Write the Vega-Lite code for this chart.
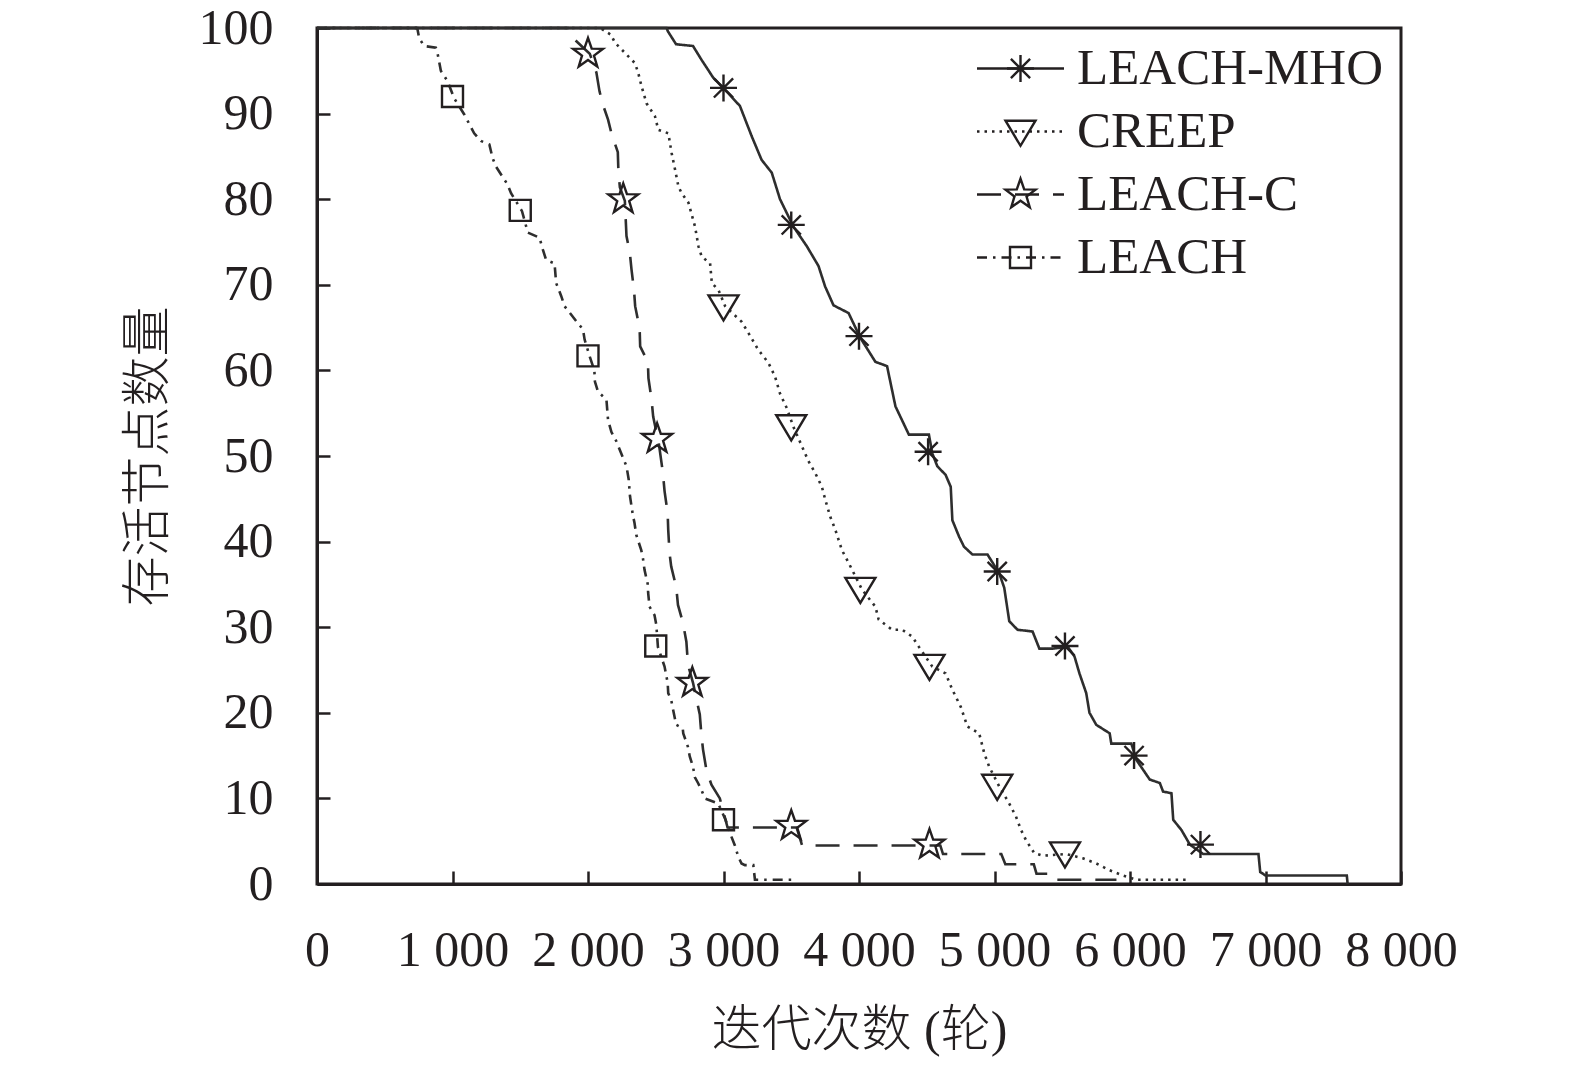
{
  "$schema": "https://vega.github.io/schema/vega-lite/v6.json",
  "autosize": {"type": "none"},
  "padding": {"left": 317, "top": 28, "right": 174, "bottom": 182},
  "width": 1084,
  "height": 856,
  "background": "white",
  "config": {
    "view": {"stroke": "#231f20", "strokeWidth": 3},
    "font": "Liberation Serif",
    "axis": {
      "grid": false,
      "domainColor": "#231f20",
      "domainWidth": 3,
      "tickColor": "#231f20",
      "tickWidth": 2.5,
      "tickSize": -13,
      "labelFont": "Liberation Serif",
      "labelFontSize": 50,
      "labelColor": "#231f20",
      "labelOverlap": false,
      "labelFlush": false,
      "titleFont": "Liberation Serif, Noto Sans CJK SC",
      "titleFontSize": 50,
      "titleFontWeight": 300,
      "titleColor": "#231f20"
    }
  },
  "datasets": {
    "lines": [
      {"series": "LEACH-MHO", "round": 0, "alive": 100},
      {"series": "LEACH-MHO", "round": 2580, "alive": 100},
      {"series": "LEACH-MHO", "round": 2590, "alive": 99.6},
      {"series": "LEACH-MHO", "round": 2650, "alive": 98.1},
      {"series": "LEACH-MHO", "round": 2775, "alive": 97.9},
      {"series": "LEACH-MHO", "round": 2837, "alive": 96.3},
      {"series": "LEACH-MHO", "round": 2924, "alive": 94.2},
      {"series": "LEACH-MHO", "round": 3010, "alive": 92.8},
      {"series": "LEACH-MHO", "round": 3121, "alive": 90.9},
      {"series": "LEACH-MHO", "round": 3207, "alive": 87.4},
      {"series": "LEACH-MHO", "round": 3281, "alive": 84.6},
      {"series": "LEACH-MHO", "round": 3356, "alive": 83.1},
      {"series": "LEACH-MHO", "round": 3417, "alive": 80},
      {"series": "LEACH-MHO", "round": 3516, "alive": 76.8},
      {"series": "LEACH-MHO", "round": 3615, "alive": 74.5},
      {"series": "LEACH-MHO", "round": 3701, "alive": 72.2},
      {"series": "LEACH-MHO", "round": 3750, "alive": 69.8},
      {"series": "LEACH-MHO", "round": 3812, "alive": 67.6},
      {"series": "LEACH-MHO", "round": 3923, "alive": 66.7},
      {"series": "LEACH-MHO", "round": 4010, "alive": 63.8},
      {"series": "LEACH-MHO", "round": 4121, "alive": 61},
      {"series": "LEACH-MHO", "round": 4207, "alive": 60.5},
      {"series": "LEACH-MHO", "round": 4269, "alive": 55.8},
      {"series": "LEACH-MHO", "round": 4368, "alive": 52.5},
      {"series": "LEACH-MHO", "round": 4516, "alive": 52.5},
      {"series": "LEACH-MHO", "round": 4541, "alive": 50.3},
      {"series": "LEACH-MHO", "round": 4578, "alive": 48.8},
      {"series": "LEACH-MHO", "round": 4639, "alive": 47.8},
      {"series": "LEACH-MHO", "round": 4677, "alive": 46.4},
      {"series": "LEACH-MHO", "round": 4689, "alive": 42.5},
      {"series": "LEACH-MHO", "round": 4738, "alive": 40.6},
      {"series": "LEACH-MHO", "round": 4775, "alive": 39.4},
      {"series": "LEACH-MHO", "round": 4837, "alive": 38.5},
      {"series": "LEACH-MHO", "round": 4948, "alive": 38.5},
      {"series": "LEACH-MHO", "round": 5035, "alive": 36.3},
      {"series": "LEACH-MHO", "round": 5072, "alive": 34.6},
      {"series": "LEACH-MHO", "round": 5109, "alive": 30.7},
      {"series": "LEACH-MHO", "round": 5170, "alive": 29.7},
      {"series": "LEACH-MHO", "round": 5281, "alive": 29.5},
      {"series": "LEACH-MHO", "round": 5331, "alive": 27.5},
      {"series": "LEACH-MHO", "round": 5430, "alive": 27.5},
      {"series": "LEACH-MHO", "round": 5541, "alive": 27.7},
      {"series": "LEACH-MHO", "round": 5590, "alive": 26.6},
      {"series": "LEACH-MHO", "round": 5627, "alive": 24.6},
      {"series": "LEACH-MHO", "round": 5677, "alive": 22.3},
      {"series": "LEACH-MHO", "round": 5701, "alive": 20},
      {"series": "LEACH-MHO", "round": 5751, "alive": 18.6},
      {"series": "LEACH-MHO", "round": 5850, "alive": 17.6},
      {"series": "LEACH-MHO", "round": 5862, "alive": 16.4},
      {"series": "LEACH-MHO", "round": 6010, "alive": 16.4},
      {"series": "LEACH-MHO", "round": 6047, "alive": 14.5},
      {"series": "LEACH-MHO", "round": 6146, "alive": 12.2},
      {"series": "LEACH-MHO", "round": 6220, "alive": 11.8},
      {"series": "LEACH-MHO", "round": 6244, "alive": 10.8},
      {"series": "LEACH-MHO", "round": 6306, "alive": 10.6},
      {"series": "LEACH-MHO", "round": 6319, "alive": 7.5},
      {"series": "LEACH-MHO", "round": 6380, "alive": 6.3},
      {"series": "LEACH-MHO", "round": 6442, "alive": 4.6},
      {"series": "LEACH-MHO", "round": 6540, "alive": 3.5},
      {"series": "LEACH-MHO", "round": 6948, "alive": 3.5},
      {"series": "LEACH-MHO", "round": 6961, "alive": 1.4},
      {"series": "LEACH-MHO", "round": 7000, "alive": 1},
      {"series": "LEACH-MHO", "round": 7600, "alive": 1},
      {"series": "LEACH-MHO", "round": 7606, "alive": 0},

      {"series": "CREEP", "round": 0, "alive": 100},
      {"series": "CREEP", "round": 2090, "alive": 100},
      {"series": "CREEP", "round": 2170, "alive": 99.2},
      {"series": "CREEP", "round": 2198, "alive": 98.3},
      {"series": "CREEP", "round": 2272, "alive": 97.1},
      {"series": "CREEP", "round": 2346, "alive": 95.9},
      {"series": "CREEP", "round": 2370, "alive": 94.8},
      {"series": "CREEP", "round": 2395, "alive": 93.2},
      {"series": "CREEP", "round": 2432, "alive": 91.2},
      {"series": "CREEP", "round": 2494, "alive": 89.7},
      {"series": "CREEP", "round": 2519, "alive": 88.1},
      {"series": "CREEP", "round": 2593, "alive": 87.7},
      {"series": "CREEP", "round": 2617, "alive": 85.4},
      {"series": "CREEP", "round": 2642, "alive": 83.5},
      {"series": "CREEP", "round": 2667, "alive": 81.5},
      {"series": "CREEP", "round": 2691, "alive": 80.7},
      {"series": "CREEP", "round": 2741, "alive": 79.6},
      {"series": "CREEP", "round": 2790, "alive": 76.8},
      {"series": "CREEP", "round": 2815, "alive": 74.5},
      {"series": "CREEP", "round": 2839, "alive": 73.3},
      {"series": "CREEP", "round": 2901, "alive": 72.5},
      {"series": "CREEP", "round": 2914, "alive": 70.2},
      {"series": "CREEP", "round": 2963, "alive": 69.4},
      {"series": "CREEP", "round": 3012, "alive": 67.5},
      {"series": "CREEP", "round": 3133, "alive": 65.7},
      {"series": "CREEP", "round": 3183, "alive": 64.4},
      {"series": "CREEP", "round": 3257, "alive": 62.4},
      {"series": "CREEP", "round": 3331, "alive": 60.9},
      {"series": "CREEP", "round": 3380, "alive": 59.3},
      {"series": "CREEP", "round": 3417, "alive": 57.3},
      {"series": "CREEP", "round": 3467, "alive": 55.6},
      {"series": "CREEP", "round": 3516, "alive": 53.4},
      {"series": "CREEP", "round": 3627, "alive": 49.4},
      {"series": "CREEP", "round": 3677, "alive": 48},
      {"series": "CREEP", "round": 3726, "alive": 46.4},
      {"series": "CREEP", "round": 3751, "alive": 44.9},
      {"series": "CREEP", "round": 3788, "alive": 42.9},
      {"series": "CREEP", "round": 3825, "alive": 41.4},
      {"series": "CREEP", "round": 3874, "alive": 39},
      {"series": "CREEP", "round": 3924, "alive": 37.5},
      {"series": "CREEP", "round": 4022, "alive": 34.4},
      {"series": "CREEP", "round": 4121, "alive": 32.4},
      {"series": "CREEP", "round": 4145, "alive": 30.9},
      {"series": "CREEP", "round": 4244, "alive": 29.7},
      {"series": "CREEP", "round": 4319, "alive": 29.7},
      {"series": "CREEP", "round": 4393, "alive": 28.9},
      {"series": "CREEP", "round": 4442, "alive": 27.7},
      {"series": "CREEP", "round": 4541, "alive": 25.4},
      {"series": "CREEP", "round": 4639, "alive": 24.6},
      {"series": "CREEP", "round": 4689, "alive": 22.7},
      {"series": "CREEP", "round": 4751, "alive": 20.7},
      {"series": "CREEP", "round": 4800, "alive": 18.4},
      {"series": "CREEP", "round": 4887, "alive": 17.6},
      {"series": "CREEP", "round": 4924, "alive": 15.3},
      {"series": "CREEP", "round": 4961, "alive": 13.7},
      {"series": "CREEP", "round": 5035, "alive": 11.4},
      {"series": "CREEP", "round": 5109, "alive": 9.4},
      {"series": "CREEP", "round": 5158, "alive": 7.9},
      {"series": "CREEP", "round": 5196, "alive": 6.3},
      {"series": "CREEP", "round": 5233, "alive": 5.1},
      {"series": "CREEP", "round": 5294, "alive": 3.6},
      {"series": "CREEP", "round": 5356, "alive": 3.3},
      {"series": "CREEP", "round": 5528, "alive": 3.5},
      {"series": "CREEP", "round": 5652, "alive": 3},
      {"series": "CREEP", "round": 5751, "alive": 2.4},
      {"series": "CREEP", "round": 5850, "alive": 1.6},
      {"series": "CREEP", "round": 5948, "alive": 1},
      {"series": "CREEP", "round": 6047, "alive": 0.5},
      {"series": "CREEP", "round": 6420, "alive": 0.5},

      {"series": "LEACH-C", "round": 0, "alive": 100},
      {"series": "LEACH-C", "round": 1850, "alive": 100},
      {"series": "LEACH-C", "round": 1864, "alive": 99.2},
      {"series": "LEACH-C", "round": 2013, "alive": 97},
      {"series": "LEACH-C", "round": 2062, "alive": 94.8},
      {"series": "LEACH-C", "round": 2085, "alive": 92.6},
      {"series": "LEACH-C", "round": 2111, "alive": 91},
      {"series": "LEACH-C", "round": 2148, "alive": 89.3},
      {"series": "LEACH-C", "round": 2173, "alive": 87.7},
      {"series": "LEACH-C", "round": 2220, "alive": 85.5},
      {"series": "LEACH-C", "round": 2224, "alive": 83.5},
      {"series": "LEACH-C", "round": 2235, "alive": 81.4},
      {"series": "LEACH-C", "round": 2272, "alive": 79.8},
      {"series": "LEACH-C", "round": 2284, "alive": 75.7},
      {"series": "LEACH-C", "round": 2309, "alive": 73.7},
      {"series": "LEACH-C", "round": 2321, "alive": 71.8},
      {"series": "LEACH-C", "round": 2340, "alive": 69.3},
      {"series": "LEACH-C", "round": 2348, "alive": 67.5},
      {"series": "LEACH-C", "round": 2381, "alive": 64.9},
      {"series": "LEACH-C", "round": 2385, "alive": 62.8},
      {"series": "LEACH-C", "round": 2442, "alive": 61},
      {"series": "LEACH-C", "round": 2446, "alive": 59.1},
      {"series": "LEACH-C", "round": 2469, "alive": 56.6},
      {"series": "LEACH-C", "round": 2481, "alive": 54.6},
      {"series": "LEACH-C", "round": 2506, "alive": 52.7},
      {"series": "LEACH-C", "round": 2519, "alive": 51.9},
      {"series": "LEACH-C", "round": 2553, "alive": 48},
      {"series": "LEACH-C", "round": 2565, "alive": 45.9},
      {"series": "LEACH-C", "round": 2588, "alive": 43.3},
      {"series": "LEACH-C", "round": 2592, "alive": 41.4},
      {"series": "LEACH-C", "round": 2602, "alive": 38.6},
      {"series": "LEACH-C", "round": 2614, "alive": 37.1},
      {"series": "LEACH-C", "round": 2651, "alive": 34.7},
      {"series": "LEACH-C", "round": 2664, "alive": 32.6},
      {"series": "LEACH-C", "round": 2701, "alive": 30.5},
      {"series": "LEACH-C", "round": 2726, "alive": 28.3},
      {"series": "LEACH-C", "round": 2738, "alive": 25.6},
      {"series": "LEACH-C", "round": 2775, "alive": 23.5},
      {"series": "LEACH-C", "round": 2825, "alive": 19.8},
      {"series": "LEACH-C", "round": 2837, "alive": 17.4},
      {"series": "LEACH-C", "round": 2849, "alive": 15.7},
      {"series": "LEACH-C", "round": 2874, "alive": 13.3},
      {"series": "LEACH-C", "round": 2911, "alive": 11.6},
      {"series": "LEACH-C", "round": 2973, "alive": 10},
      {"series": "LEACH-C", "round": 3030, "alive": 6.6},
      {"series": "LEACH-C", "round": 3540, "alive": 6.6},
      {"series": "LEACH-C", "round": 3580, "alive": 4.5},
      {"series": "LEACH-C", "round": 4600, "alive": 4.5},
      {"series": "LEACH-C", "round": 4620, "alive": 3.5},
      {"series": "LEACH-C", "round": 5050, "alive": 3.5},
      {"series": "LEACH-C", "round": 5080, "alive": 2.3},
      {"series": "LEACH-C", "round": 5290, "alive": 2.3},
      {"series": "LEACH-C", "round": 5310, "alive": 1.2},
      {"series": "LEACH-C", "round": 5420, "alive": 1.2},
      {"series": "LEACH-C", "round": 5440, "alive": 0.5},
      {"series": "LEACH-C", "round": 5900, "alive": 0.5},

      {"series": "LEACH", "round": 0, "alive": 100},
      {"series": "LEACH", "round": 740, "alive": 100},
      {"series": "LEACH", "round": 754, "alive": 98.8},
      {"series": "LEACH", "round": 791, "alive": 97.9},
      {"series": "LEACH", "round": 877, "alive": 97.7},
      {"series": "LEACH", "round": 889, "alive": 97.1},
      {"series": "LEACH", "round": 914, "alive": 95},
      {"series": "LEACH", "round": 963, "alive": 93.8},
      {"series": "LEACH", "round": 1012, "alive": 91.8},
      {"series": "LEACH", "round": 1087, "alive": 89.9},
      {"series": "LEACH", "round": 1160, "alive": 87.7},
      {"series": "LEACH", "round": 1210, "alive": 86.8},
      {"series": "LEACH", "round": 1272, "alive": 86.4},
      {"series": "LEACH", "round": 1296, "alive": 84.8},
      {"series": "LEACH", "round": 1321, "alive": 83.8},
      {"series": "LEACH", "round": 1407, "alive": 81.7},
      {"series": "LEACH", "round": 1432, "alive": 80.7},
      {"series": "LEACH", "round": 1513, "alive": 78.6},
      {"series": "LEACH", "round": 1556, "alive": 76.1},
      {"series": "LEACH", "round": 1642, "alive": 75.5},
      {"series": "LEACH", "round": 1667, "alive": 74.1},
      {"series": "LEACH", "round": 1691, "alive": 72.9},
      {"series": "LEACH", "round": 1753, "alive": 72.5},
      {"series": "LEACH", "round": 1765, "alive": 70.2},
      {"series": "LEACH", "round": 1802, "alive": 68.7},
      {"series": "LEACH", "round": 1827, "alive": 67.5},
      {"series": "LEACH", "round": 1926, "alive": 65.5},
      {"series": "LEACH", "round": 1963, "alive": 64.8},
      {"series": "LEACH", "round": 1975, "alive": 63.6},
      {"series": "LEACH", "round": 2013, "alive": 61.6},
      {"series": "LEACH", "round": 2047, "alive": 60},
      {"series": "LEACH", "round": 2051, "alive": 58.7},
      {"series": "LEACH", "round": 2074, "alive": 57.5},
      {"series": "LEACH", "round": 2136, "alive": 56.6},
      {"series": "LEACH", "round": 2148, "alive": 54.2},
      {"series": "LEACH", "round": 2173, "alive": 52.8},
      {"series": "LEACH", "round": 2210, "alive": 51.7},
      {"series": "LEACH", "round": 2235, "alive": 50.7},
      {"series": "LEACH", "round": 2284, "alive": 48.8},
      {"series": "LEACH", "round": 2300, "alive": 47.3},
      {"series": "LEACH", "round": 2310, "alive": 45.3},
      {"series": "LEACH", "round": 2331, "alive": 43.1},
      {"series": "LEACH", "round": 2343, "alive": 42.2},
      {"series": "LEACH", "round": 2356, "alive": 40.8},
      {"series": "LEACH", "round": 2393, "alive": 39},
      {"series": "LEACH", "round": 2405, "alive": 38.1},
      {"series": "LEACH", "round": 2417, "alive": 36.7},
      {"series": "LEACH", "round": 2440, "alive": 35.1},
      {"series": "LEACH", "round": 2444, "alive": 34},
      {"series": "LEACH", "round": 2454, "alive": 32.4},
      {"series": "LEACH", "round": 2491, "alive": 31.4},
      {"series": "LEACH", "round": 2504, "alive": 30.3},
      {"series": "LEACH", "round": 2516, "alive": 27.7},
      {"series": "LEACH", "round": 2565, "alive": 25.4},
      {"series": "LEACH", "round": 2588, "alive": 23.5},
      {"series": "LEACH", "round": 2592, "alive": 22.3},
      {"series": "LEACH", "round": 2614, "alive": 21.5},
      {"series": "LEACH", "round": 2639, "alive": 19.5},
      {"series": "LEACH", "round": 2651, "alive": 18.6},
      {"series": "LEACH", "round": 2699, "alive": 18.2},
      {"series": "LEACH", "round": 2703, "alive": 17.6},
      {"series": "LEACH", "round": 2738, "alive": 16},
      {"series": "LEACH", "round": 2751, "alive": 14.9},
      {"series": "LEACH", "round": 2775, "alive": 13.7},
      {"series": "LEACH", "round": 2788, "alive": 12.5},
      {"series": "LEACH", "round": 2812, "alive": 11.8},
      {"series": "LEACH", "round": 2837, "alive": 11},
      {"series": "LEACH", "round": 2862, "alive": 10},
      {"series": "LEACH", "round": 2961, "alive": 9.4},
      {"series": "LEACH", "round": 3015, "alive": 7.5},
      {"series": "LEACH", "round": 3059, "alive": 5.5},
      {"series": "LEACH", "round": 3084, "alive": 4.5},
      {"series": "LEACH", "round": 3109, "alive": 3.2},
      {"series": "LEACH", "round": 3133, "alive": 2.4},
      {"series": "LEACH", "round": 3158, "alive": 2.2},
      {"series": "LEACH", "round": 3220, "alive": 2.2},
      {"series": "LEACH", "round": 3232, "alive": 0.5},
      {"series": "LEACH", "round": 3530, "alive": 0.5}
    ],
    "markers": [
      {"series": "LEACH-MHO", "round": 3000, "alive": 93},
      {"series": "LEACH-MHO", "round": 3500, "alive": 77},
      {"series": "LEACH-MHO", "round": 4000, "alive": 64},
      {"series": "LEACH-MHO", "round": 4510, "alive": 50.5},
      {"series": "LEACH-MHO", "round": 5020, "alive": 36.5},
      {"series": "LEACH-MHO", "round": 5520, "alive": 27.8},
      {"series": "LEACH-MHO", "round": 6030, "alive": 15},
      {"series": "LEACH-MHO", "round": 6520, "alive": 4.6},
      {"series": "CREEP", "round": 3000, "alive": 67.5},
      {"series": "CREEP", "round": 3500, "alive": 53.5},
      {"series": "CREEP", "round": 4010, "alive": 34.5},
      {"series": "CREEP", "round": 4520, "alive": 25.5},
      {"series": "CREEP", "round": 5020, "alive": 11.5},
      {"series": "CREEP", "round": 5520, "alive": 3.6},
      {"series": "LEACH-C", "round": 2000, "alive": 97},
      {"series": "LEACH-C", "round": 2260, "alive": 80},
      {"series": "LEACH-C", "round": 2510, "alive": 52},
      {"series": "LEACH-C", "round": 2770, "alive": 23.5},
      {"series": "LEACH-C", "round": 3500, "alive": 6.8},
      {"series": "LEACH-C", "round": 4520, "alive": 4.6},
      {"series": "LEACH", "round": 1000, "alive": 92},
      {"series": "LEACH", "round": 1500, "alive": 78.7},
      {"series": "LEACH", "round": 2000, "alive": 61.7},
      {"series": "LEACH", "round": 2500, "alive": 27.8},
      {"series": "LEACH", "round": 3000, "alive": 7.5}
    ]
  },
  "encoding": {
    "x": {
      "field": "round",
      "type": "quantitative",
      "scale": {"domain": [0, 8000], "nice": false},
      "axis": {
        "values": [0, 1000, 2000, 3000, 4000, 5000, 6000, 7000, 8000],
        "labelExpr": "replace(format(datum.value, ','), ',', ' ')",
        "labelPadding": 54,
        "title": "迭代次数 (轮)",
        "titlePadding": 30
      }
    },
    "y": {
      "field": "alive",
      "type": "quantitative",
      "scale": {"domain": [0, 100], "nice": false},
      "axis": {
        "values": [0, 10, 20, 30, 40, 50, 60, 70, 80, 90, 100],
        "labelPadding": 57,
        "title": "存活节点数量",
        "titlePadding": 25
      }
    }
  },
  "layer": [
    {
      "data": {"name": "lines"},
      "mark": {"type": "line", "color": "#2e2e2e", "strokeWidth": 2.6},
      "encoding": {
        "strokeDash": {
          "field": "series",
          "type": "nominal",
          "sort": ["LEACH-MHO", "CREEP", "LEACH-C", "LEACH"],
          "scale": {"range": [[1, 0], [2.5, 5], [24, 14], [10, 6, 2.5, 6]]},
          "legend": {
            "orient": "none",
            "legendX": 678,
            "legendY": 15,
            "title": null,
            "padding": 0,
            "symbolType": "M-2.9,0L2.9,0",
            "symbolSize": 900,
            "symbolStrokeColor": "#231f20",
            "symbolStrokeWidth": 2.4,
            "labelFont": "Liberation Serif",
            "labelFontSize": 51,
            "labelOpacity": 0,
            "labelOffset": 31,
            "labelLimit": 0,
            "rowPadding": 11
          }
        }
      }
    },
    {
      "data": {"name": "markers"},
      "mark": {"type": "point", "filled": false, "color": "#231f20", "strokeWidth": 2.4, "size": 900, "opacity": 1},
      "encoding": {
        "shape": {
          "field": "series",
          "type": "nominal",
          "scale": {
            "domain": ["LEACH-MHO", "CREEP", "LEACH-C", "LEACH"],
            "range": [
              "M-0.9,0L0.9,0M0,-0.9L0,0.9M-0.64,-0.64L0.64,0.64M-0.64,0.64L0.64,-0.64",
              "M-1,-0.72L1,-0.72L0,0.95Z",
              "M0,-1.05L0.247,-0.34L1,-0.325L0.4,0.13L0.617,0.85L0,0.42L-0.617,0.85L-0.4,0.13L-1,-0.325L-0.247,-0.34Z",
              "M-0.7,-0.7L0.7,-0.7L0.7,0.7L-0.7,0.7Z"
            ]
          },
          "legend": {
            "orient": "none",
            "legendX": 678,
            "legendY": 15,
            "title": null,
            "padding": 0,
            "symbolSize": 900,
            "symbolStrokeColor": "#231f20",
            "symbolStrokeWidth": 2.4,
            "symbolFillColor": "transparent",
            "labelFont": "Liberation Serif",
            "labelFontSize": 51,
            "labelColor": "#231f20",
            "labelOffset": 31,
            "labelLimit": 0,
            "rowPadding": 11
          }
        }
      }
    }
  ]
}
